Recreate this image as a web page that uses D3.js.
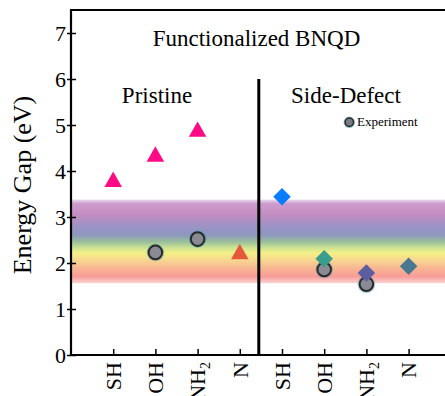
<!DOCTYPE html>
<html><head><meta charset="utf-8">
<script src="https://cdn.jsdelivr.net/npm/d3@7"></script>
<style>html,body{margin:0;padding:0;background:#fff;overflow:hidden}
svg text{font-family:'Liberation Serif','Times New Roman',serif !important;}</style>
</head><body>
<script>
// ---- data ----
const categories = ["SH", "OH", "NH2", "N"];
const pristineTheory = [3.82, 4.37, 4.91, 2.25];
const pristineExp = [null, 2.23, 2.52, null];
const defectTheory = [3.44, 2.09, 1.78, 1.93];
const defectExp = [null, 1.86, 1.54, null];
const visibleBand = [1.56, 3.38];
const yTicks = [0, 1, 2, 3, 4, 5, 6, 7];
const pristineColors = ["#ff0a84", "#ff0a84", "#ff0a84", "#e4583c"];
const defectColors = ["#0a7cff", "#3a9e8c", "#5c5ea2", "#4a7890"];

const W = 445, H = 396;
const font = "'Liberation Serif','Times New Roman',serif";
const svg = d3.select("body").append("svg").attr("width", W).attr("height", H)
  .style("font-family", font);

const x = d3.scaleLinear().domain([-1, 8]).range([71, 450.8]);
const y = d3.scaleLinear().domain([0, 7.5]).range([355, 10]);

// gradient band
const defs = svg.append("defs");
const g = defs.append("linearGradient").attr("id", "band").attr("x1", 0).attr("x2", 0).attr("y1", 0).attr("y2", 1);
[[0, "#eadcef"], [0.05, "#cc9ccc"], [0.18, "#c28cc0"], [0.32, "#9c92c6"], [0.42, "#8e98c0"],
 [0.5, "#98bc9c"], [0.58, "#cee492"], [0.64, "#f4f086"], [0.72, "#f8d890"], [0.82, "#f8b692"],
 [0.92, "#f89c98"], [1, "#fbd4d4"]].forEach(([o, c]) => g.append("stop").attr("offset", o).attr("stop-color", c));

svg.append("rect")
  .attr("x", x(-1)).attr("width", x(8) - x(-1))
  .attr("y", y(visibleBand[1])).attr("height", y(visibleBand[0]) - y(visibleBand[1]))
  .attr("fill", "url(#band)");

// axes
const yAxis = d3.axisLeft(y).tickValues(yTicks).tickSize(0).tickPadding(5);
const ya = svg.append("g").attr("transform", `translate(${x(-1)},0)`).call(yAxis)
  .attr("font-family", null).attr("font-size", null);
ya.select(".domain").remove();
ya.selectAll("text").attr("font-size", 22).attr("fill", "#000");
ya.selectAll(".tick").append("line").attr("x1", -4).attr("x2", 5).attr("stroke", "#000").attr("stroke-width", 1.5);

const allIdx = d3.range(8);
const labelsAll = categories.concat(categories);
const xAxis = d3.axisBottom(x).tickValues(allIdx).tickSize(0).tickFormat("");
const xa = svg.append("g").attr("transform", `translate(0,${y(0)})`).call(xAxis)
  .attr("font-family", null).attr("font-size", null);
xa.select(".domain").remove();
xa.selectAll(".tick text").remove();
xa.selectAll(".tick").append("line").attr("y1", 0).attr("y2", -6).attr("stroke", "#000").attr("stroke-width", 1.5);
xa.selectAll(".tick").each(function(d) {
  const t = d3.select(this).append("text")
    .attr("transform", "rotate(-90)")
    .attr("x", -7).attr("y", 0).attr("dy", "0.33em")
    .attr("text-anchor", "end").attr("font-size", 22).attr("fill", "#000");
  const lab = labelsAll[d];
  if (lab === "NH2") {
    t.append("tspan").text("NH");
    t.append("tspan").text("2").attr("font-size", 14).attr("dy", "0.35em");
  } else t.text(lab);
});

// frame
svg.append("line").attr("x1", x(-1)).attr("x2", x(-1)).attr("y1", y(7.5)).attr("y2", y(0)).attr("stroke", "#000").attr("stroke-width", 2.2);
svg.append("line").attr("x1", x(-1) - 1).attr("x2", x(8)).attr("y1", y(0)).attr("y2", y(0)).attr("stroke", "#000").attr("stroke-width", 2.2);
svg.append("line").attr("x1", x(-1) - 1).attr("x2", x(8)).attr("y1", y(7.5)).attr("y2", y(7.5)).attr("stroke", "#000").attr("stroke-width", 2.2);

// divider
const dividerAt = 3.45;
svg.append("line").attr("x1", x(dividerAt)).attr("x2", x(dividerAt)).attr("y1", y(6.0)).attr("y2", y(0)).attr("stroke", "#000").attr("stroke-width", 3);

// texts
svg.append("text").attr("x", 256.5).attr("y", 46).attr("text-anchor", "middle").attr("font-size", 23).text("Functionalized BNQD");
svg.append("text").attr("x", 157).attr("y", 103).attr("text-anchor", "middle").attr("font-size", 23).text("Pristine");
svg.append("text").attr("x", 346).attr("y", 103).attr("text-anchor", "middle").attr("font-size", 23).text("Side-Defect");

svg.append("text").attr("transform", `translate(31,185) rotate(-90)`).attr("text-anchor", "middle")
  .attr("font-size", 26).text("Energy Gap (eV)");

// markers
function triPath(s) { const h = s * 0.88; return `M0,${-h/2}L${s/2},${h/2}L${-s/2},${h/2}Z`; }
function diaPath(s) { const r = s / 2; return `M0,${-r}L${r},0L0,${r}L${-r},0Z`; }

function drawExp(vals, offset) {
  vals.forEach((v, i) => {
    if (v == null) return;
    const cx = x(i + offset), cy = y(v);
    svg.append("circle").attr("cx", cx).attr("cy", cy).attr("r", 7.3).attr("fill", "none").attr("stroke", "#3a9ab0").attr("stroke-opacity", 0.45).attr("stroke-width", 3);
    svg.append("circle").attr("cx", cx).attr("cy", cy).attr("r", 6.8).attr("fill", "#8a8a94").attr("stroke", "#2a2a2a").attr("stroke-width", 2);
  });
}
drawExp(pristineExp, 0);
drawExp(defectExp, 4);

pristineTheory.forEach((v, i) => {
  svg.append("path").attr("d", triPath(17.5)).attr("transform", `translate(${x(i)},${y(v)})`).attr("fill", pristineColors[i]);
});
defectTheory.forEach((v, i) => {
  svg.append("path").attr("d", diaPath(17.5)).attr("transform", `translate(${x(i + 4)},${y(v)})`).attr("fill", defectColors[i]);
});

// legend
svg.append("circle").attr("cx", 349.3).attr("cy", 122.3).attr("r", 4.8).attr("fill", "none").attr("stroke", "#3a9ab0").attr("stroke-opacity", 0.5).attr("stroke-width", 2);
svg.append("circle").attr("cx", 349.3).attr("cy", 122.3).attr("r", 4.2).attr("fill", "#7a7a84").attr("stroke", "#2a2a2a").attr("stroke-width", 1.5);
svg.append("text").attr("x", 357).attr("y", 126).attr("font-size", 13).text("Experiment");
</script>
</body></html>
